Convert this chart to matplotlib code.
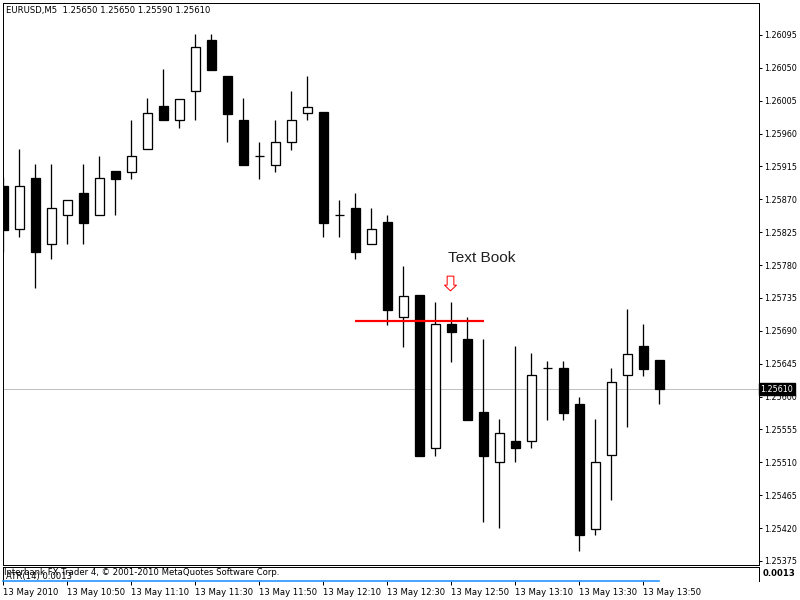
import matplotlib
matplotlib.use("Agg")
import matplotlib.pyplot as plt
from matplotlib.path import Path

# ---------------- data ----------------
header_text = "EURUSD,M5  1.25650 1.25650 1.25590 1.25610"

opens = [1.25888, 1.25829, 1.25899, 1.25809, 1.25848, 1.25879, 1.25848, 1.25909,
         1.25908, 1.25939, 1.25998, 1.25978, 1.26018, 1.26088, 1.26039, 1.25979,
         1.25929, 1.25917, 1.25948, 1.25988, 1.25989, 1.25848, 1.25858, 1.25809,
         1.25839, 1.25709, 1.25739, 1.25529, 1.25699, 1.25679, 1.25579, 1.25510,
         1.25539, 1.25539, 1.25639, 1.25639, 1.25590, 1.25419, 1.25520, 1.25629,
         1.25669, 1.25650]
highs = [1.25900, 1.25939, 1.25918, 1.25918, 1.25869, 1.25918, 1.25929, 1.25909,
         1.25979, 1.26009, 1.26048, 1.26008, 1.26097, 1.26097, 1.26039, 1.26009,
         1.25948, 1.25979, 1.26018, 1.26039, 1.25989, 1.25869, 1.25879, 1.25858,
         1.25849, 1.25779, 1.25739, 1.25730, 1.25730, 1.25709, 1.25679, 1.25569,
         1.25669, 1.25660, 1.25649, 1.25649, 1.25600, 1.25569, 1.25639, 1.25720,
         1.25699, 1.25650]
lows = [1.25798, 1.25818, 1.25748, 1.25788, 1.25809, 1.25809, 1.25848, 1.25848,
        1.25898, 1.25939, 1.25978, 1.25968, 1.25978, 1.26047, 1.25948, 1.25917,
        1.25898, 1.25908, 1.25938, 1.25978, 1.25818, 1.25818, 1.25788, 1.25809,
        1.25698, 1.25668, 1.25519, 1.25519, 1.25648, 1.25568, 1.25429, 1.25420,
        1.25510, 1.25529, 1.25568, 1.25568, 1.25389, 1.25410, 1.25459, 1.25559,
        1.25628, 1.25590]
closes = [1.25828, 1.25888, 1.25798, 1.25858, 1.25869, 1.25838, 1.25899, 1.25898,
          1.25929, 1.25988, 1.25978, 1.26008, 1.26078, 1.26047, 1.25987, 1.25917,
          1.25929, 1.25948, 1.25979, 1.25997, 1.25838, 1.25848, 1.25798, 1.25829,
          1.25719, 1.25738, 1.25519, 1.25699, 1.25689, 1.25568, 1.25519, 1.25550,
          1.25529, 1.25629, 1.25639, 1.25578, 1.25410, 1.25510, 1.25620, 1.25659,
          1.25638, 1.25610]

price_ticks = [1.26095, 1.26050, 1.26005, 1.25960, 1.25915, 1.25870, 1.25825,
               1.25780, 1.25735, 1.25690, 1.25645, 1.25600, 1.25555, 1.25510,
               1.25465, 1.25420, 1.25375]
price_tick_labels = ["1.26095", "1.26050", "1.26005", "1.25960", "1.25915", "1.25870",
                     "1.25825", "1.25780", "1.25735", "1.25690", "1.25645", "1.25600",
                     "1.25555", "1.25510", "1.25465", "1.25420", "1.25375"]

time_tick_bars = [0, 4, 8, 12, 16, 20, 24, 28, 32, 36, 40]
time_tick_labels = ["13 May 2010", "13 May 10:50", "13 May 11:10", "13 May 11:30",
                    "13 May 11:50", "13 May 12:10", "13 May 12:30", "13 May 12:50",
                    "13 May 13:10", "13 May 13:30", "13 May 13:50"]

bid_price = 1.25610
bid_label = "1.25610"
level_price = 1.25703
level_bars = [22, 30.05]
arrow_bar = 27.92
arrow_price = 1.257556
note_text = "Text Book"
note_bar = 27.8
note_price = 1.257847

atr_bars = [0, 41]
atr_values = [0.0, 0.0]
atr_label = "ATR(14) 0.0013"
atr_scale_label = "0.0013"
copyright_text = "Interbank FX Trader 4, \u00a9 2001-2010 MetaQuotes Software Corp."

# ---------------- figure ----------------
W, H = 800, 600
fig = plt.figure(figsize=(8, 6), dpi=100)
fig.patch.set_facecolor("white")
PX = 0.72  # one pixel in points
FS = 6.1
FS_Y = 5.8

def fx(px):
    return px / W

def fy(py):
    return 1 - py / H

ax = fig.add_axes([fx(2.7), fy(565), fx(759 - 2.7), (565 - 2.7) / H])
ax2 = fig.add_axes([fx(2.7), fy(581), fx(759 - 2.7), (581 - 567) / H])

xmin, xmax = -0.0375, 47.23
ax.set_xlim(xmin, xmax)
ax.set_ylim(1.253695, 1.261392)
ax2.set_xlim(xmin, xmax)
ax2.set_ylim(0, 0.0013)

# bid line (behind candles)
ax.axhline(bid_price, color="#c0c0c0", lw=1.0 * PX, zorder=1)

body_w = 0.6
for i, (o, h, l, c) in enumerate(zip(opens, highs, lows, closes)):
    ax.vlines(i, l, h, color="black", lw=1.3 * PX, zorder=2)
    if o == c:
        ax.hlines(o, i - body_w / 2, i + body_w / 2, color="black", lw=1.3 * PX, zorder=3)
    else:
        fill = "white" if c > o else "black"
        ax.bar(i, abs(c - o), bottom=min(o, c), width=body_w, facecolor=fill,
               edgecolor="black", linewidth=1.3 * PX, zorder=3)

# red horizontal level
ax.plot(level_bars, [level_price, level_price], color="#ff0000", lw=2.2 * PX,
        solid_capstyle="butt", zorder=5)

# hollow down arrow
verts = [(-3.35, 7.35), (3.35, 7.35), (3.35, -1.65), (6.0, -1.65), (0.0, -7.35),
         (-6.0, -1.65), (-3.35, -1.65), (-3.35, 7.35)]
codes = [Path.MOVETO] + [Path.LINETO] * 6 + [Path.CLOSEPOLY]
arrow_path = Path(verts, codes)
ax.plot([arrow_bar], [arrow_price], marker=arrow_path, markersize=14.7 * PX,
        markerfacecolor="white", markeredgecolor="#ff0000", markeredgewidth=1.0 * PX,
        linestyle="none", zorder=6)

ax.text(note_bar, note_price, note_text, fontsize=11.1, family="Liberation Sans",
        color="#202020", ha="left", va="baseline", zorder=6)

# axes styling main
for s in ax.spines.values():
    s.set_color("black")
    s.set_linewidth(1.0 * PX)
ax.set_xticks([])
ax.set_yticks(price_ticks)
ax.set_yticklabels(price_tick_labels)
ax.tick_params(axis="y", left=False, right=True, labelleft=False, labelright=True,
               length=2.4, width=1.0 * PX, pad=1.2, labelsize=FS_Y,
               direction="out", colors="black")

# bid label box
ax.text(1.0 + fx(1.5) / ((759 - 2.7) / W), bid_price, bid_label,
        transform=ax.get_yaxis_transform(),
        fontsize=FS_Y, color="white", ha="left", va="center", zorder=10,
        bbox=dict(boxstyle="square,pad=0.2", facecolor="black", edgecolor="black"),
        clip_on=False)

# indicator panel
ax2.plot(atr_bars, atr_values, color="#1e90ff", lw=1.6 * PX, clip_on=False, zorder=3)
for k in ["top", "left", "right"]:
    ax2.spines[k].set_color("black")
    ax2.spines[k].set_linewidth(1.0 * PX)
ax2.spines["bottom"].set_visible(False)
ax2.set_yticks([])
ax2.set_xticks(time_tick_bars)
ax2.set_xticklabels(time_tick_labels, ha="left")
ax2.tick_params(axis="x", length=4 * PX, width=1.0 * PX, pad=2.0, labelsize=FS,
                direction="out", colors="black")
for lab in ax2.get_xticklabels():
    lab.set_horizontalalignment("left")

ax2.text(0.002, 0.62, copyright_text, transform=ax2.transAxes, fontsize=FS,
         color="black", ha="left", va="center")
ax2.text(0.004, 0.35, atr_label, transform=ax2.transAxes, fontsize=FS,
         color="black", ha="left", va="center")
ax2.text(1.0 + fx(4) / ((759 - 2.7) / W), 0.55, atr_scale_label, transform=ax2.transAxes,
         fontsize=FS, color="black", ha="left", va="center", fontweight="bold",
         clip_on=False)

# header
fig.text(fx(6), fy(11), header_text, fontsize=FS, color="black", ha="left", va="center")

fig.savefig("out.png", dpi=100, facecolor="white")
